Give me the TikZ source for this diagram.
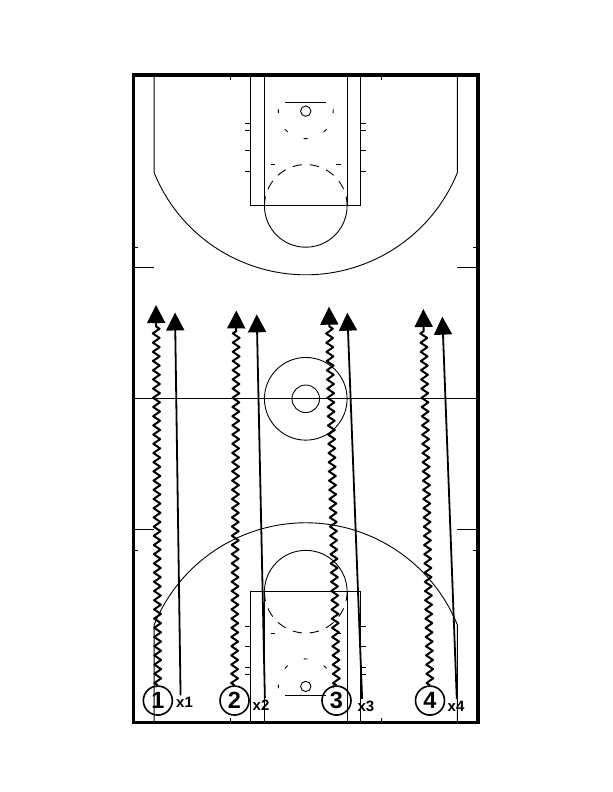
\documentclass[tikz,border=0pt]{standalone}
\usepackage{fontspec}
\setmainfont{Liberation Sans}
\usetikzlibrary{arrows.meta, decorations.pathmorphing, positioning}

\begin{document}
\begin{tikzpicture}[x=6.89pt, y=6.89pt, line width=0.9pt,
    player/.style={circle, draw, line width=1.6pt, minimum size=29pt, inner sep=0pt,
      font=\fontsize{23.5}{23.5}\selectfont\bfseries},
    defender/.style={inner sep=1.5pt, font=\fontsize{15}{15}\selectfont\bfseries},
    run/.style={line width=1.8pt, -{Triangle[length=18pt, width=18pt]}},
    dribble/.style={run, line width=2pt, line join=round, decorate,
      decoration={zigzag, amplitude=3.4pt, segment length=9.2pt, post length=19pt}}]
    \useasboundingbox (-44.38,-57.07) rectangle (44.45,57.88);
    % court outline, half-court line and centre circles
    \draw[line width=3.6pt] (-25,-47) rectangle (25,47);
    \draw (-25,0) -- (25,0);
    \draw (0,0) circle (6) (0,0) circle (2);
    % both ends of the court
    \foreach \s in {1,-1} {
      \begin{scope}[yscale=\s]
        \draw (-8,47) rectangle (8,28);
        \draw (-6,47) -- (-6,28) (6,47) -- (6,28);
        \draw (-6,28) arc[start angle=180, end angle=360, radius=6];
        \draw[dash pattern=on 9.5pt off 7.7pt] (-6,28) arc[start angle=180, end angle=0, radius=6];
        \draw (0,41.75) circle (0.75);
        \draw (-3,43) -- (3,43);
        \draw[dash pattern=on 4pt off 17.65pt] ([shift={(0,41.75)}]4.16:4)
          arc[start angle=4.16, end angle=-184.16, radius=4];
        \draw (-5.1,34) -- (-4.4,34) (4.4,34) -- (5.1,34);
        \foreach \y in {40,39,36,33}
          \draw (-8.8,\y) -- (-8,\y) (8,\y) -- (8.8,\y);
        \draw (-11,47) -- (-11,46.3) (11,47) -- (11,46.3);
        % three point line
        \draw (-22,47) -- (-22,32.8) arc[start angle=-157.86, end angle=-22.14, radius=23.75] -- (22,47);
        % sideline marks
        \draw (-25,22) -- (-24.3,22) (24.3,22) -- (25,22);
        \draw (-25,19) -- (-22,19) (22,19) -- (25,19);
      \end{scope}
    }
    % players and defenders
    \node[player] (p1) at (-21.47,-43.8) {1};
    \node[player] (p2) at (-10.34,-43.8) {2};
    \node[player] (p3) at (4.46,-43.8) {3};
    \node[player] (p4) at (18.03,-43.8) {4};
    \node[defender] (x1) at (-17.6,-44.08) {x1};
    \node[defender] (x2) at (-6.49,-44.44) {x2};
    \node[defender] (x3) at (8.74,-44.6) {x3};
    \node[defender] (x4) at (21.81,-44.6) {x4};
    % arrow ends
    \coordinate (d1) at (-21.73,13.61);
    \coordinate (d2) at (-10.08,12.82);
    \coordinate (d3) at (3.37,13.37);
    \coordinate (d4) at (17.06,13.03);
    \coordinate (r1) at (-18.98,12.53);
    \coordinate (r2) at (-7.12,12.26);
    \coordinate (r3) at (6.03,12.5);
    \coordinate (r4) at (19.82,11.92);
    % dribbles
    \draw[dribble] (p1.north) -- (d1);
    \draw[dribble] (p2.north) -- (d2);
    \draw[dribble] (p3.north) -- (d3);
    \draw[dribble] (p4.north) -- (d4);
    % defenders running
    \draw[run] (x1.119) -- (r1);
    \draw[run] (x2.62) -- (r2);
    \draw[run] (x3.118) -- (r3);
    \draw[run] (x4.84) -- (r4);
\end{tikzpicture}
\end{document}
